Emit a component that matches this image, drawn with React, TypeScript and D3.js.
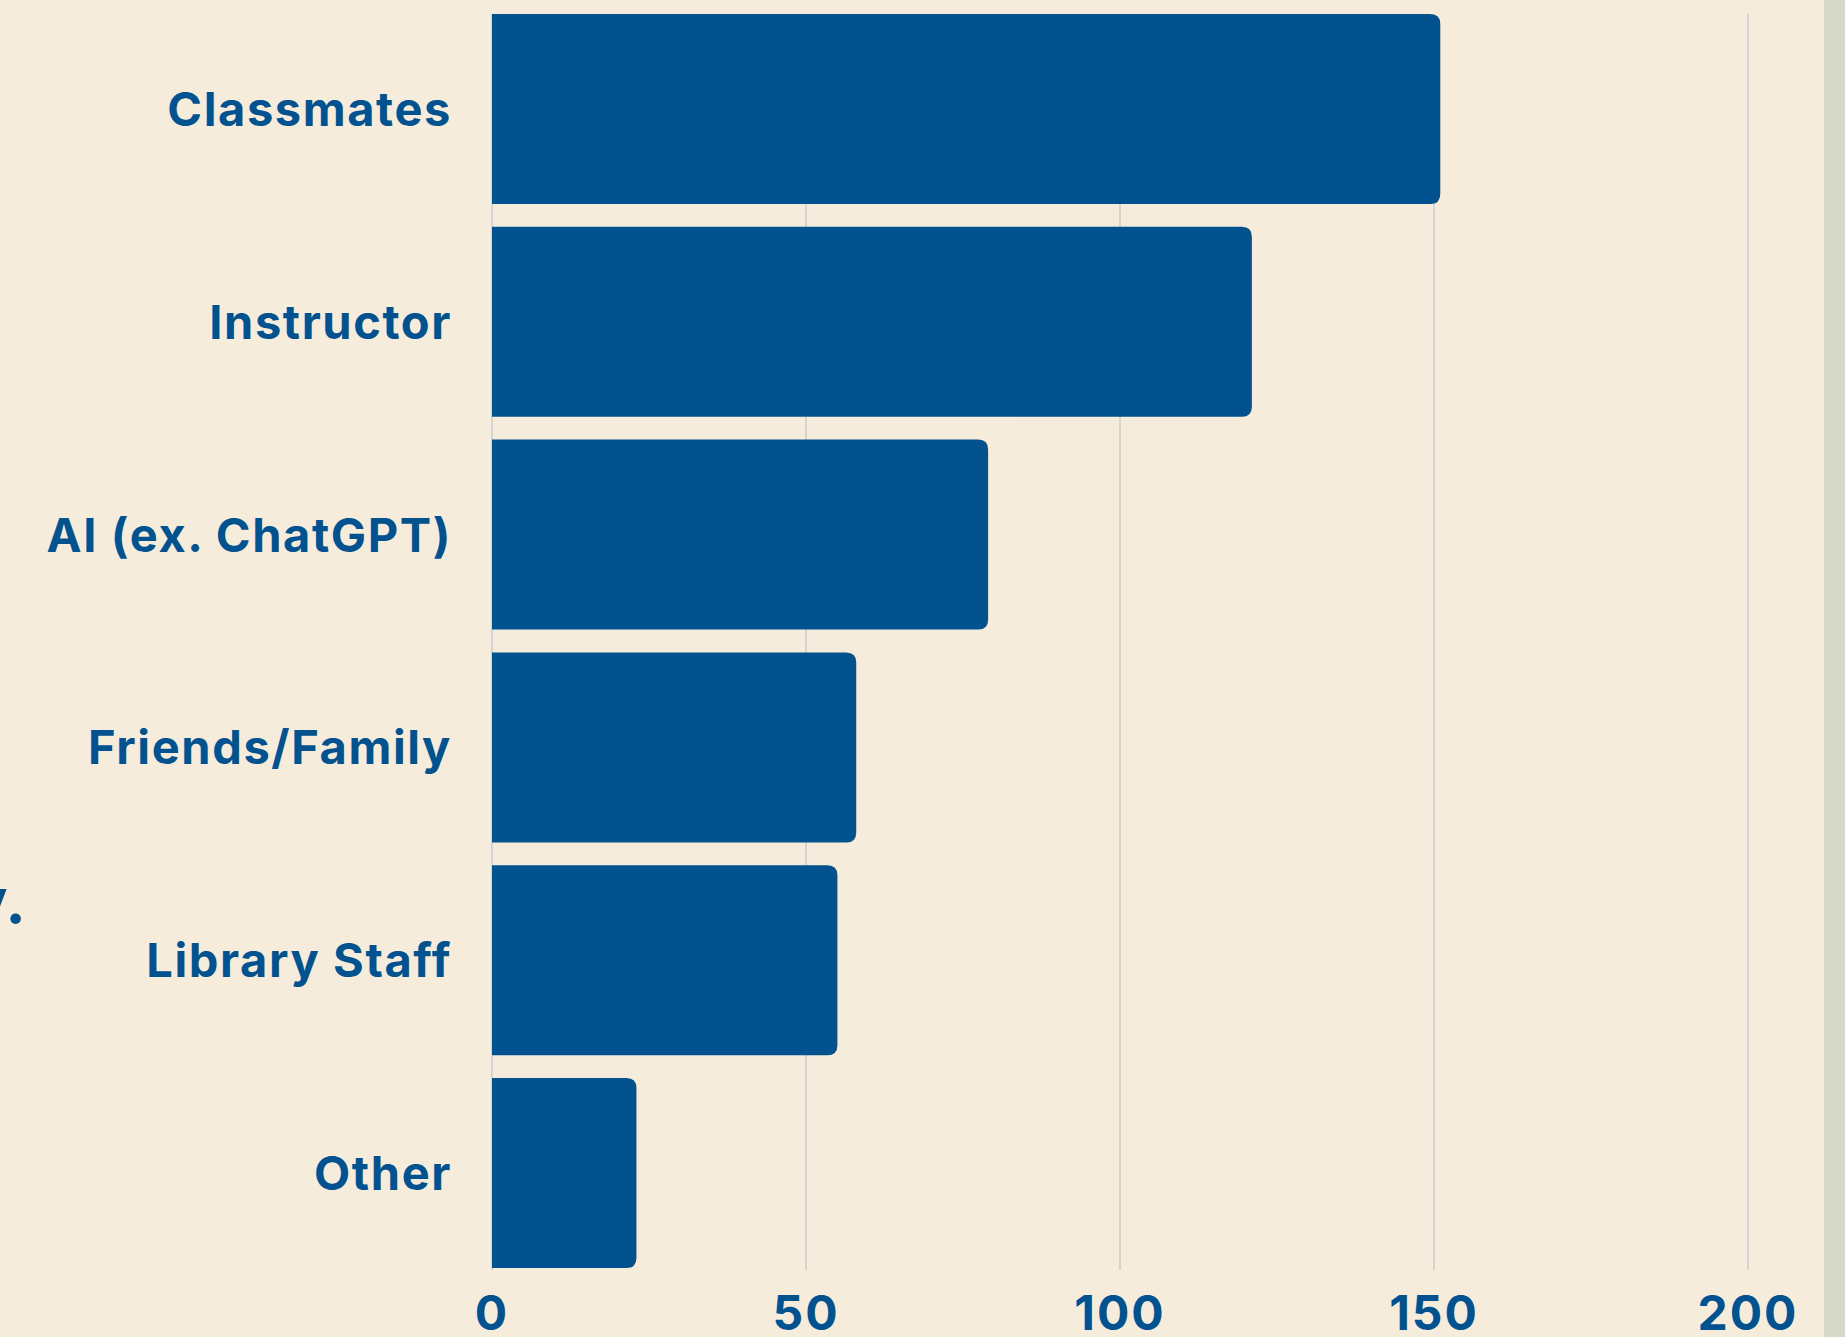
import { useEffect, useRef } from "react";
import * as d3 from "d3";

const categories = ["Classmates", "Instructor", "AI (ex. ChatGPT)", "Friends/Family", "Library Staff", "Other"];
const counts = [151, 121, 79, 58, 55, 23];
const ticks = [0, 50, 100, 150, 200];

const W = 1845;
const H = 1337;
const BLUE = "#02528f";
const FONT = "Inter, 'Open Sans', sans-serif";

function App() {
  const svgRef = useRef<SVGSVGElement | null>(null);

  useEffect(() => {
    const svg = d3.select(svgRef.current);
    svg.selectAll("*").remove();

    const x = d3.scaleLinear().domain([0, 200]).range([492, 1748]);
    const y = d3.scaleBand().domain(categories).range([14, 1268]).paddingInner(0.107).paddingOuter(0);

    // background + right strip
    svg.append("rect").attr("width", W).attr("height", H).attr("fill", "#f6ecdc");
    svg.append("rect").attr("x", 1824).attr("width", W - 1824).attr("height", H).attr("fill", "#d6d9c7");

    // grid
    svg
      .selectAll(".grid")
      .data(ticks)
      .join("line")
      .attr("x1", (d) => x(d))
      .attr("x2", (d) => x(d))
      .attr("y1", 14)
      .attr("y2", 1270)
      .attr("stroke", "#bcc7cd")
      .attr("stroke-width", 1.2);

    // bars, rounded on the right only
    const r = 10;
    svg
      .selectAll(".bar")
      .data(counts)
      .join("path")
      .attr("fill", BLUE)
      .attr("d", (d, i) => {
        const x0 = x(0);
        const x1 = x(d);
        const y0 = y(categories[i])!;
        const y1 = y0 + y.bandwidth();
        return `M${x0},${y0}H${x1 - r}Q${x1},${y0} ${x1},${y0 + r}V${y1 - r}Q${x1},${y1} ${x1 - r},${y1}H${x0}Z`;
      });

    // category labels
    svg
      .selectAll(".cat")
      .data(categories)
      .join("text")
      .attr("x", 452)
      .attr("y", (d) => y(d)! + y.bandwidth() / 2)
      .attr("dy", "0.36em")
      .attr("text-anchor", "end")
      .attr("fill", BLUE)
      .attr("font-family", FONT)
      .attr("font-weight", 700)
      .attr("font-size", 47)
      .attr("letter-spacing", 1.6)
      .text((d) => d);

    // x tick labels
    svg
      .selectAll(".tick")
      .data(ticks)
      .join("text")
      .attr("x", (d) => x(d))
      .attr("y", 1330)
      .attr("text-anchor", "middle")
      .attr("fill", BLUE)
      .attr("font-family", FONT)
      .attr("font-weight", 700)
      .attr("font-size", 48)
      .attr("letter-spacing", 2)
      .text((d) => d);

    // cut-off text at left edge
    svg
      .append("text")
      .attr("x", 26)
      .attr("y", 923)
      .attr("text-anchor", "end")
      .attr("fill", BLUE)
      .attr("font-family", FONT)
      .attr("font-weight", 700)
      .attr("font-size", 62)
      .text("y.");
  }, []);

  return (
    <svg
      ref={svgRef}
      width={W}
      height={H}
      style={{ position: "absolute", top: 0, left: 0, display: "block" }}
    />
  );
}

export default App;
